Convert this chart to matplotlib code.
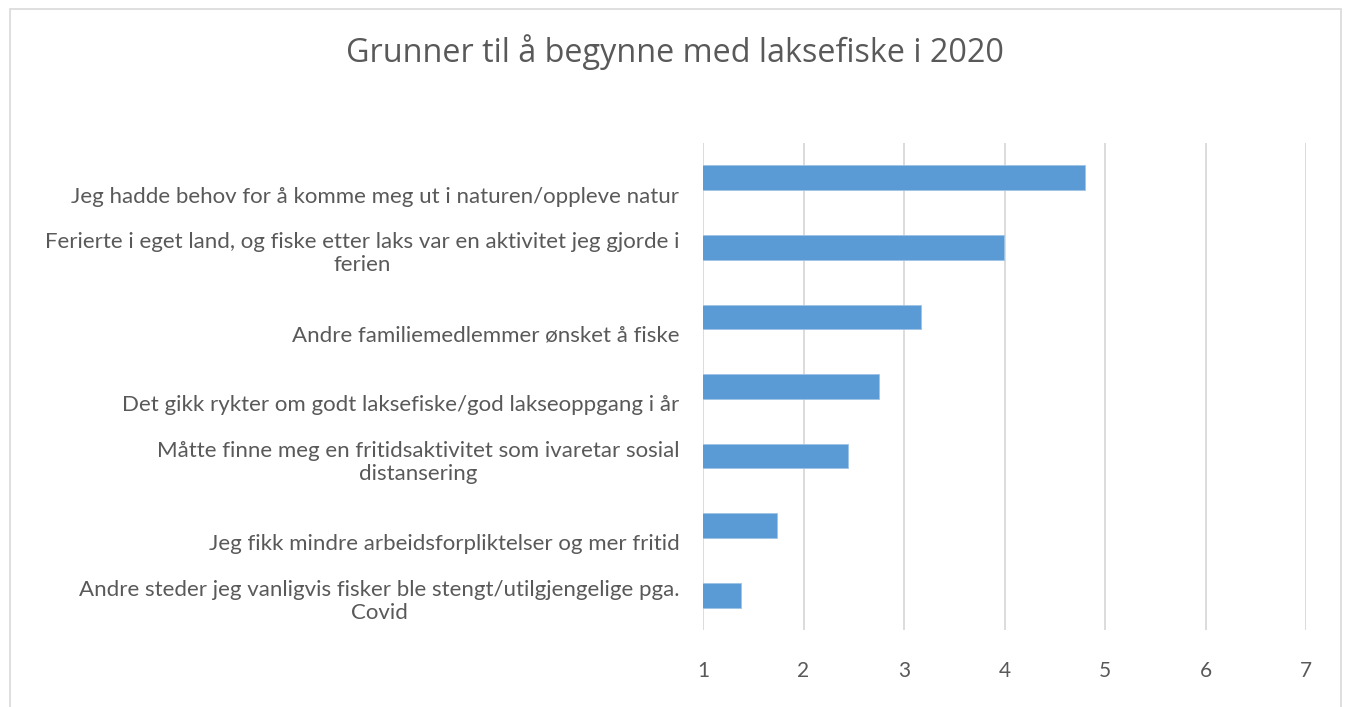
import matplotlib.pyplot as plt
from matplotlib.patches import Rectangle
from matplotlib.transforms import offset_copy

TEXT_COLOR = "#595959"
BAR_COLOR = "#5b9bd5"
GRID_COLOR = "#d9d9d9"

# top to bottom, as in the chart
labels = [
    "Jeg hadde behov for å komme meg ut i naturen/oppleve natur",
    "Ferierte i eget land, og fiske etter laks var en aktivitet jeg gjorde i\nferien",
    "Andre familiemedlemmer ønsket å fiske",
    "Det gikk rykter om godt laksefiske/god lakseoppgang i år",
    "Måtte finne meg en fritidsaktivitet som ivaretar sosial\ndistansering",
    "Jeg fikk mindre arbeidsforpliktelser og mer fritid",
    "Andre steder jeg vanligvis fisker ble stengt/utilgjengelige pga.\nCovid",
]
values = [4.80, 3.99, 3.17, 2.75, 2.44, 1.74, 1.38]
xticks = [1, 2, 3, 4, 5, 6, 7]

plt.rcParams["font.family"] = ["Lato", "DejaVu Sans"]

fig = plt.figure(figsize=(13.46, 7.07), dpi=100)
ax = fig.add_axes([0.5223, 0.1089, 0.9703 - 0.5223, 0.7977 - 0.1089])

# chart border
fig.patches.append(Rectangle((10 / 1346, -0.05), 1331 / 1346, 1 - 9 / 707 + 0.05,
                             transform=fig.transFigure, fill=False,
                             edgecolor=GRID_COLOR, lw=1.2))

ypos = list(range(len(labels)))
ax.barh(ypos, values, height=0.354, color=BAR_COLOR, edgecolor="#9dc3e6",
        lw=0.6, zorder=3)
ax.set_xlim(1, 7)
ax.set_ylim(len(labels) - 0.5, -0.5)

ax.set_xticks(xticks)
ax.set_xticklabels([str(t) for t in xticks])
ax.tick_params(axis="x", length=0, pad=22, labelsize=15, labelcolor=TEXT_COLOR)
ax.set_yticks([])
ax.grid(axis="x", color=GRID_COLOR, lw=1.3, zorder=0)
for s in ax.spines.values():
    s.set_visible(False)

for y, lab in zip(ypos, labels):
    dy = -4.5 if "\n" in lab else -13.5
    tr = offset_copy(ax.get_yaxis_transform(), fig=fig, x=-17, y=dy, units="points")
    ax.text(0, y, lab, transform=tr, ha="right", va="center", multialignment="center",
            fontsize=16, color=TEXT_COLOR, linespacing=1.2)

fig.text(0.5015, 1 - 52 / 707, "Grunner til å begynne med laksefiske i 2020",
         ha="center", va="center", fontsize=23.3, color=TEXT_COLOR,
         family=["Open Sans", "DejaVu Sans"])

fig.savefig("out.png", dpi=100)
